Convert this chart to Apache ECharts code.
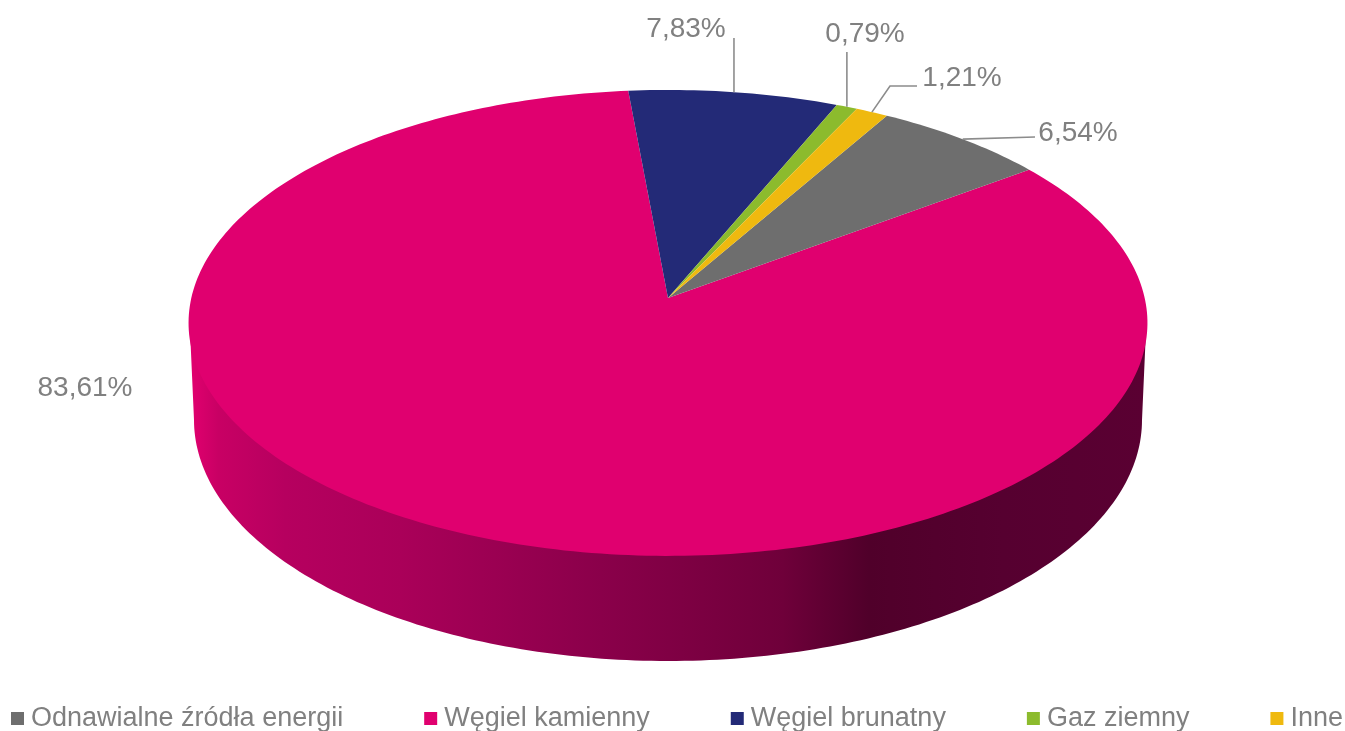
<!DOCTYPE html>
<html><head><meta charset="utf-8">
<script src="https://cdn.jsdelivr.net/npm/echarts@6/dist/echarts.min.js"></script>
<style>html,body{margin:0;padding:0;background:#fff}#c{width:1345px;height:731px}</style>
</head><body><div id="c"></div>
<script>
const categories = ['Odnawialne źródła energii','Węgiel kamienny','Węgiel brunatny','Gaz ziemny','Inne'];
const values = [6.54, 83.61, 7.83, 0.79, 1.21];
const colors = ['#6e6e6e','#e0006f','#232a77','#8cbb2d','#efb90f'];

// Leader waypoints and label centres (page layout, not data)
const labelLayout = [
  {at:[1078,133], via:[[1035,137]]},
  {at:[85,388], via:null},
  {at:[686,29], via:[[733,38]], vertical:true},
  {at:[865,34], via:[[848,52]], vertical:true},
  {at:[962,78], via:[[890,86],[917,86]]}
];
const startDeg = 30.1;      // clockwise from the top of the disc
const total = values.reduce((a,b)=>a+b,0);
const FONT = '"Liberation Sans", Arial, sans-serif';
const TEXT = '#808080';

// Tilted-disc projection: the disc centre is displaced from the ellipse centre
const cx=668, cy=298, K=-0.107, A=230.3, B=476.7;
function rim(deg){
  const t=deg*Math.PI/180, u=Math.sin(t), v=-Math.cos(t), d=1+K*v;
  return [cx+B*u/d, cy+A*v/d];
}
function sliceRange(i){
  let s=startDeg;
  for(let k=0;k<i;k++) s+=values[k]/total*360;
  return [s, s+values[i]/total*360];
}
function wall(){
  const pts=[]; const lx=668,ly=420,rx=474,ry=241;
  for(let a=0;a<=180;a+=1){
    const t=a*Math.PI/180;
    pts.push([lx+rx*Math.cos(t), ly+ry*Math.sin(t)]);
  }
  pts.push([190,330],[1146,330]);
  return {type:'polygon',shape:{points:pts},style:{fill:{
    type:'linear',x:0,y:0,x2:1,y2:0,colorStops:[
      {offset:0,color:'#e2006f'},{offset:0.03,color:'#c80064'},{offset:0.1,color:'#b6005f'},{offset:0.22,color:'#aa0059'},
      {offset:0.43,color:'#8a004a'},{offset:0.62,color:'#6f003a'},{offset:0.71,color:'#50002a'},
      {offset:0.85,color:'#560030'},{offset:1,color:'#5a0032'}]}}};
}
function renderSlice(i){
  return function(params,api){
    const val=api.value(0);
    const [a,b]=sliceRange(i);
    const pts=[[cx,cy]];
    const n=Math.max(4,Math.ceil(b-a));
    for(let k=0;k<=n;k++) pts.push(rim(a+(b-a)*k/n));
    const children=[];
    if(i===1) children.push(wall());
    children.push({type:'polygon',shape:{points:pts},style:{fill:colors[i]}});
    const lay=labelLayout[i];
    if(lay.via){
      const anchor=rim((a+b)/2);
      const line=[anchor].concat(lay.via.map(p=>lay.vertical?[anchor[0],p[1]]:p));
      children.push({type:'polyline',shape:{points:line},style:{fill:null,stroke:'#8c8c8c',lineWidth:1.6}});
    }
    children.push({type:'text',style:{x:lay.at[0],y:lay.at[1],text:val.toFixed(2).replace('.',',')+'%',
      fill:TEXT,font:'28px '+FONT,textAlign:'center',textVerticalAlign:'middle'}});
    return {type:'group',children:children};
  };
}
const chart=echarts.init(document.getElementById('c'),null,{renderer:'canvas'});
chart.setOption({
  animation:false,
  backgroundColor:'#fff',
  legend:{show:true,data:categories,left:11,top:705,itemWidth:13,itemHeight:13,itemGap:81,icon:'rect',
    padding:0,selectedMode:false,textStyle:{color:TEXT,fontSize:27,fontFamily:'Liberation Sans',padding:[0,0,0,2]}},
  series:categories.map((name,i)=>({
    type:'custom',name:name,coordinateSystem:'none',silent:true,
    itemStyle:{color:colors[i]},
    z:i===1?1:2,
    data:[[values[i]]],
    renderItem:renderSlice(i)
  }))
});
</script></body></html>
